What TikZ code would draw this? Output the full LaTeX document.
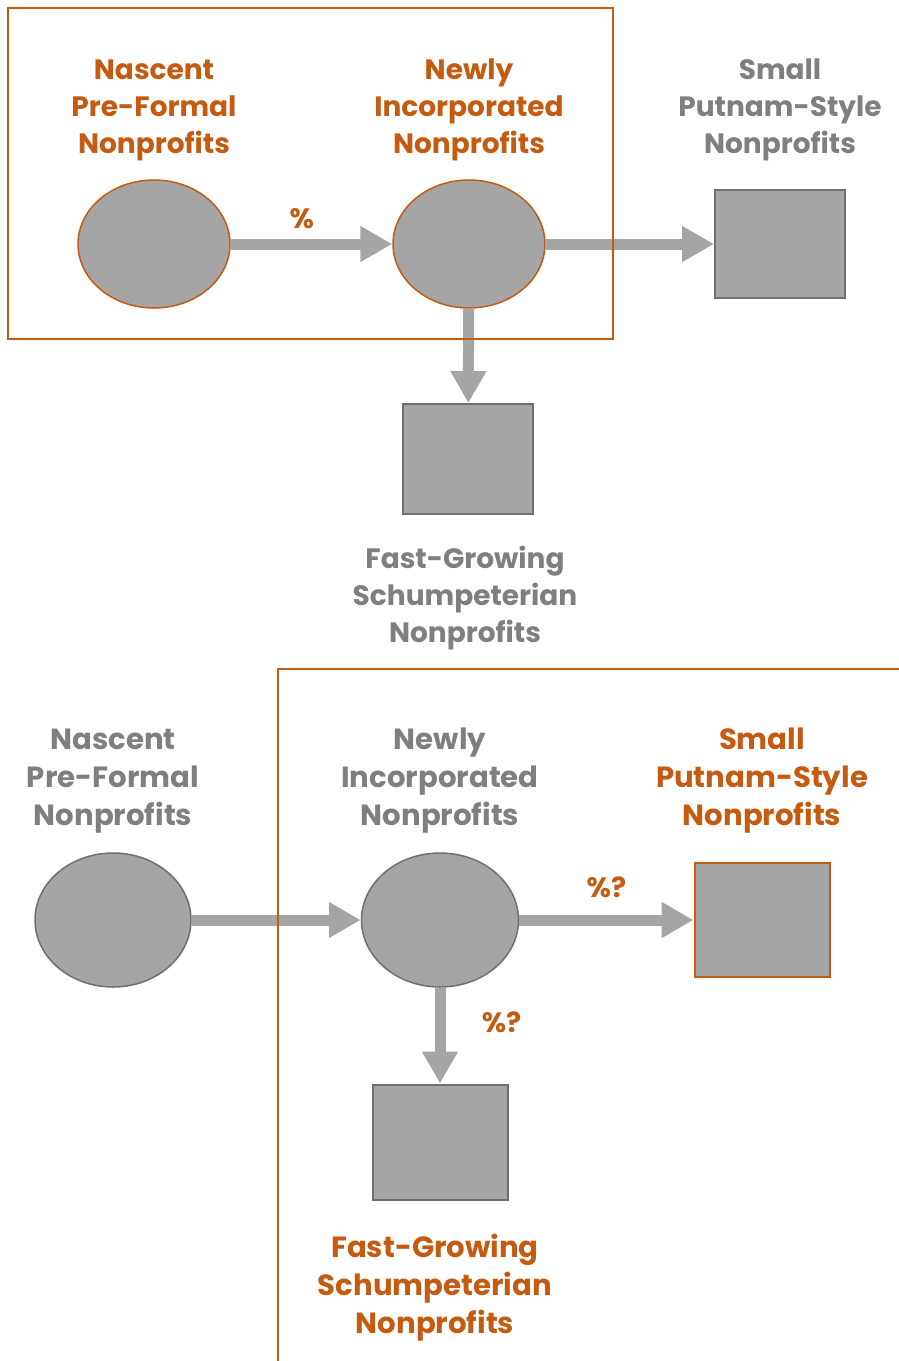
\documentclass[tikz,border=0pt]{standalone}
\usepackage{fontspec}
\setmainfont{Poppins}
\usepackage{tikz}
\usetikzlibrary{arrows.meta,shapes.geometric}

\definecolor{rust}{HTML}{C55A11}
\definecolor{boxgray}{HTML}{A5A5A5}
\definecolor{txtgray}{HTML}{7F7F7F}
\definecolor{edgegray}{HTML}{6F6F6F}

\begin{document}
\begin{tikzpicture}[x=1pt,y=-1pt]
\tikzstyle{label} = [align=center, font=\fontsize{28}{37}\selectfont\bfseries]
\tikzstyle{biglabel} = [align=center, font=\fontsize{29.2}{38}\selectfont\bfseries]
\tikzstyle{hot} = [text=rust]
\tikzstyle{cold} = [text=txtgray]
\tikzstyle{stage} = [ellipse, fill=boxgray, line width=1.5pt, inner sep=0pt]
\tikzstyle{outcome} = [rectangle, fill=boxgray, line width=2pt, inner sep=0pt]
\tikzstyle{arrow} = [draw=boxgray, line width=11pt,
  -{Triangle[width=34pt,length=32pt]}]
\tikzstyle{frame} = [draw=rust, line width=2.2pt]
\tikzstyle{pct} = [font=\fontsize{28}{30}\selectfont\bfseries, text=rust]

\useasboundingbox (0,0) rectangle (899,1361);

% top panel
\node [stage, draw=rust, minimum width=152pt, minimum height=128pt] (nascentA) at (154,244) {};
\node [stage, draw=rust, minimum width=152pt, minimum height=128pt] (newlyA) at (469,244) {};
\node [outcome, draw=edgegray, minimum width=130pt, minimum height=108pt] (putnamA) at (780,244) {};
\node [outcome, draw=edgegray, minimum width=130pt, minimum height=110pt] (schumA) at (468,459) {};

\node [label, hot] at (154,110) {Nascent\\Pre-Formal\\Nonprofits};
\node [label, hot] at (469,110) {Newly\\Incorporated\\Nonprofits};
\node [label, cold] at (780,110) {Small\\Putnam-Style\\Nonprofits};
\node [label, cold] at (465,598) {Fast-Growing\\Schumpeterian\\Nonprofits};

\path [arrow] (nascentA) -- node [pct, pos=0.44, above=6pt] {\%} (newlyA);
\path [arrow] (newlyA) -- (putnamA);
\path [arrow] (newlyA) -- (schumA);

\draw [frame] (8,8) rectangle (613,339);

% bottom panel
\node [stage, draw=edgegray, minimum width=156pt, minimum height=134pt] (nascentB) at (113,920) {};
\node [stage, draw=edgegray, minimum width=157pt, minimum height=134pt] (newlyB) at (440,920) {};
\node [outcome, draw=rust, minimum width=135pt, minimum height=114pt] (putnamB) at (762,920) {};
\node [outcome, draw=edgegray, minimum width=135pt, minimum height=115pt] (schumB) at (440,1142) {};

\node [biglabel, cold] at (113,781) {Nascent\\Pre-Formal\\Nonprofits};
\node [biglabel, cold] at (440,781) {Newly\\Incorporated\\Nonprofits};
\node [biglabel, hot] at (762,781) {Small\\Putnam-Style\\Nonprofits};
\node [biglabel, hot] at (435,1288) {Fast-Growing\\Schumpeterian\\Nonprofits};

\path [arrow] (nascentB) -- (newlyB);
\path [arrow] (newlyB) -- node [pct, above=13pt] {\%?} (putnamB);
\path [arrow] (newlyB) -- node [pct, pos=0.36, right=33pt] {\%?} (schumB);

\draw [frame] (899,669) -- (278,669) -- (278,1361);

\end{tikzpicture}
\end{document}
